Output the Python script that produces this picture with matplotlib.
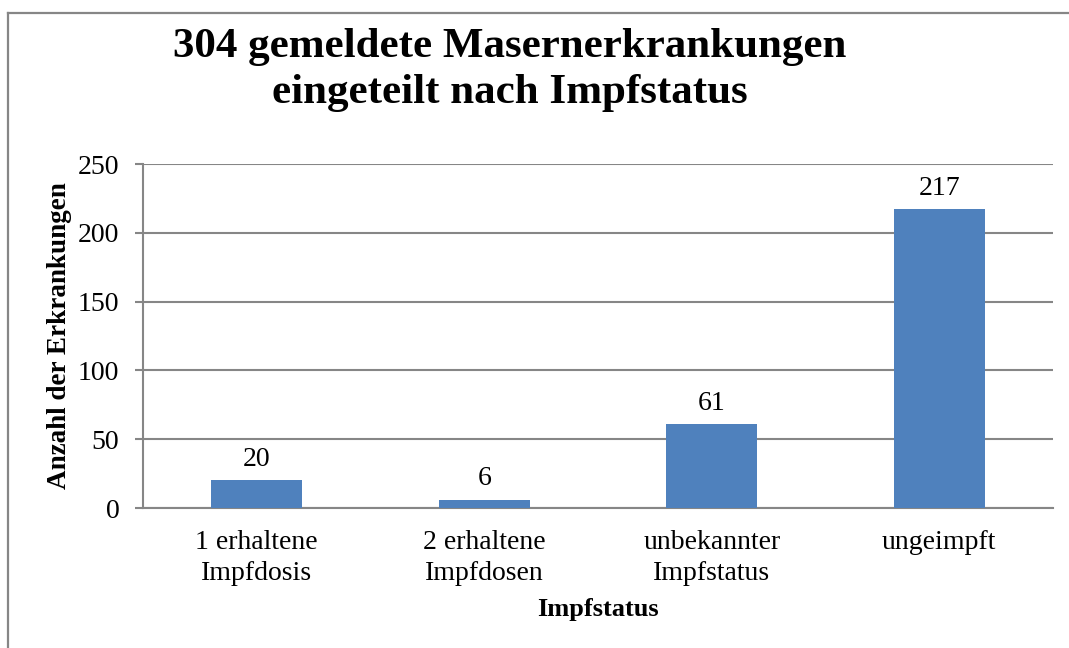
import matplotlib
matplotlib.use("Agg")
import matplotlib.pyplot as plt
from matplotlib.lines import Line2D

categories = ["1 erhaltene\nImpfdosis", "2 erhaltene\nImpfdosen", "unbekannter\nImpfstatus", "ungeimpft"]
values = [20, 6, 61, 217]
yticks = [0, 50, 100, 150, 200, 250]
title = "304 gemeldete Masernerkrankungen\neingeteilt nach Impfstatus"
xlabel = "Impfstatus"
ylabel = "Anzahl der Erkrankungen"

plt.rcParams['font.family'] = ['Liberation Serif', 'DejaVu Serif']

W, H = 1069, 648
fig = plt.figure(figsize=(W / 100, H / 100), dpi=100)
fig.patch.set_facecolor("white")

# outer chart border (left and top visible)
gray = "#868686"
fig.add_artist(Line2D([8 / W, 8 / W], [0, 1 - 13 / H], transform=fig.transFigure, color=gray, lw=1.6))
fig.add_artist(Line2D([8 / W, 1], [1 - 13 / H, 1 - 13 / H], transform=fig.transFigure, color=gray, lw=1.6))

left, right, top, bottom = 143, 1053, 164, 508
ax = fig.add_axes([left / W, 1 - bottom / H, (right - left) / W, (bottom - top) / H])

x = list(range(len(categories)))
ax.bar(x, values, width=0.4, color="#4F81BD", zorder=3)
ax.set_xlim(-0.5, len(categories) - 0.5)
ax.set_ylim(0, 250)
ax.set_yticks(yticks)
ax.set_yticklabels([str(v) for v in yticks], fontsize=20)
ax.set_xticks(x)
ax.set_xticklabels(categories, fontsize=20, linespacing=1.3)
ax.tick_params(axis='x', length=0, pad=16)
ax.tick_params(axis='y', length=6, width=1.5, color=gray, pad=11, direction='out')
ax.yaxis.grid(True, color=gray, lw=1.5, zorder=0)
ax.set_axisbelow(True)
for s in ["top", "right"]:
    ax.spines[s].set_visible(False)
for s in ["left", "bottom"]:
    ax.spines[s].set_color(gray)
    ax.spines[s].set_linewidth(1.5)

for xi, v in zip(x, values):
    ax.annotate(str(v), (xi, v), xytext=(0, 6), textcoords="offset points",
                ha="center", va="bottom", fontsize=20)

ax.set_xlabel(xlabel, fontsize=19, fontweight="bold", labelpad=9)
ax.set_ylabel(ylabel, fontsize=19.5, fontweight="bold", labelpad=4)

fig.text(510 / W, 1 - 70 / H, title, ha="center", va="center", fontsize=31,
         fontweight="bold", linespacing=1.3)

fig.savefig("out.png", dpi=100)
